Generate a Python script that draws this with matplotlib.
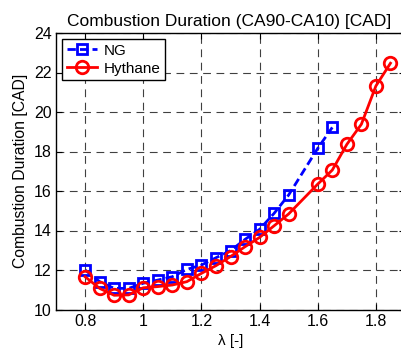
import matplotlib
matplotlib.use("Agg")
import matplotlib.pyplot as plt

plt.rcParams['font.family'] = ['Liberation Sans', 'DejaVu Sans']

# lambda values and combustion durations
lam_ng = [0.8, 0.85, 0.9, 0.95, 1.0, 1.05, 1.1, 1.15, 1.2, 1.25, 1.3, 1.35,
          1.4, 1.45, 1.5, 1.6, 1.65]
dur_ng = [12.0, 11.41, 11.07, 11.07, 11.33, 11.49, 11.66, 12.03, 12.25, 12.62,
          12.98, 13.55, 14.06, 14.87, 15.80, 18.16, 19.22]

lam_hy = [0.8, 0.85, 0.9, 0.95, 1.0, 1.05, 1.1, 1.15, 1.2, 1.25, 1.3, 1.35,
          1.4, 1.45, 1.5, 1.6, 1.65, 1.7, 1.75, 1.8, 1.85]
dur_hy = [11.66, 11.07, 10.72, 10.74, 11.1, 11.16, 11.24, 11.41, 11.83, 12.22,
          12.68, 13.18, 13.65, 14.24, 14.84, 16.35, 17.06, 18.36, 19.38, 21.32, 22.47]

xticks = [0.8, 1.0, 1.2, 1.4, 1.6, 1.8]
xticklabels = ['0.8', '1', '1.2', '1.4', '1.6', '1.8']
yticks = [10, 12, 14, 16, 18, 20, 22, 24]

W, H = 401, 352
fig = plt.figure(figsize=(W / 100, H / 100), dpi=100)
ax = fig.add_axes([56 / W, (H - 309.5) / H, (405 - 56) / W, (309.5 - 33) / H])

ax.plot(lam_ng, dur_ng, color='#0000ff', ls='--', lw=2, marker='s', ms=7,
        mfc='none', mec='#0000ff', mew=2, label='NG', dashes=(3, 1.5))
ax.plot(lam_hy, dur_hy, color='#ff0000', ls='-', lw=2, marker='o', ms=9,
        mfc='none', mec='#ff0000', mew=2, label='Hythane')

ax.set_xlim(0.7, 1.9)
ax.set_ylim(10, 24)
ax.set_xticks(xticks)
ax.set_xticklabels(xticklabels)
ax.set_yticks(yticks)
ax.tick_params(direction='in', top=True, right=True, labelsize=11.5, length=4, pad=3)
ax.grid(True, color='#404040', ls=(0, (7, 5)), lw=0.8)
for s in ax.spines.values():
    s.set_linewidth(1)

ax.set_title('Combustion Duration (CA90-CA10) [CAD]', fontsize=12.5, pad=5,
             x=(229 - 56) / (405 - 56))
ax.set_xlabel('λ [-]', fontsize=11)
ax.set_ylabel('Combustion Duration [CAD]', fontsize=11.3, labelpad=4)

leg = ax.legend(loc='upper left', fontsize=11, frameon=True, fancybox=False,
                edgecolor='black', framealpha=1, borderaxespad=0.4,
                handlelength=2.0, handletextpad=0.4, borderpad=0.3, labelspacing=0.25)
leg.get_frame().set_linewidth(1)

fig.savefig('out.png', dpi=100)
